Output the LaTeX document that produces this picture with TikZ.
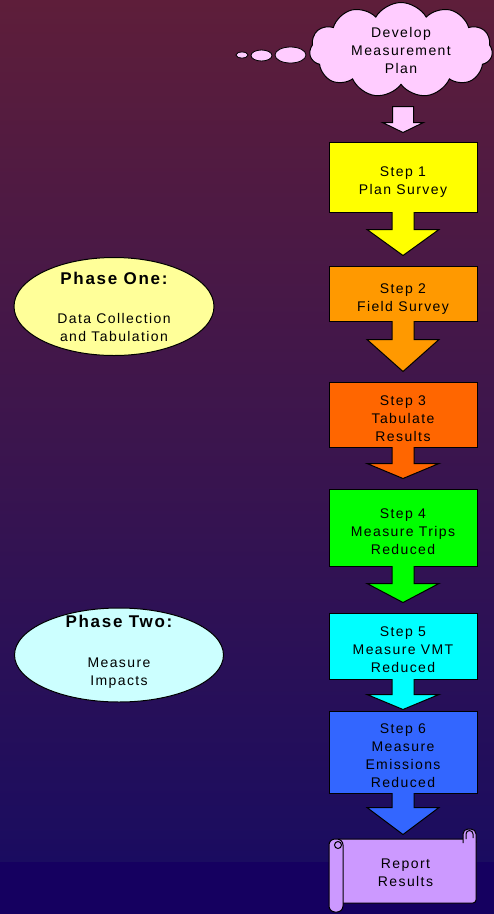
\documentclass[tikz,border=0pt]{standalone}
\usepackage{fontspec}
\setmainfont{Liberation Sans}[LetterSpace=10]
\usetikzlibrary{calc,shapes.geometric,shapes.symbols}

\definecolor{bgtop}{HTML}{5E1E3A}
\definecolor{bgmid}{HTML}{4A1A56}
\definecolor{bgbot}{HTML}{1A0C60}
\definecolor{bgband}{HTML}{150060}
\definecolor{cloudpink}{HTML}{FFCCFF}
\definecolor{stepone}{HTML}{FFFF00}
\definecolor{steptwo}{HTML}{FF9900}
\definecolor{stepthree}{HTML}{FF6600}
\definecolor{stepfour}{HTML}{00FF00}
\definecolor{stepfive}{HTML}{00FFFF}
\definecolor{stepsix}{HTML}{3366FF}
\definecolor{scrollfill}{HTML}{CC99FF}
\definecolor{phaseone}{HTML}{FFFF99}
\definecolor{phasetwo}{HTML}{CCFFFF}

\newcommand{\tstrut}{\rule{0pt}{21pt}}
\newcommand{\bstrut}{\rule[-4pt]{0pt}{4pt}}
% block arrow: from, to, neck length, gap above target, fill
\newcommand{\flowarrow}[5]{%
  \filldraw[fill=#5] ($(#1.south)+(-11,-0.5)$) -- ($(#1.south)+(-11,#3)$) -- ($(#1.south)+(-36,#3)$)
    -- ($(#1.south |- #2.north)+(0,-#4)$) -- ($(#1.south)+(36,#3)$) -- ($(#1.south)+(11,#3)$)
    -- ($(#1.south)+(11,-0.5)$);}

\begin{document}
\begin{tikzpicture}[x=1pt,y=-1pt,line width=1pt,
    font=\fontsize{14}{18}\selectfont,
    stepbox/.style={draw,minimum width=148,inner sep=0pt,align=center},
    phase/.style={ellipse,draw,inner xsep=0pt,inner ysep=-8pt,align=center,text depth=0pt},
  ]
    % background
    \shade[top color=bgtop,middle color=bgmid,bottom color=bgbot] (0,0) rectangle (494,862);
    \fill[bgband] (0,862) rectangle (494,914);
    \useasboundingbox (0,0) rectangle (494,914);

    % thought cloud
    \filldraw[fill=cloudpink,line width=0.8pt] (242,55) ellipse (6 and 3);
    \filldraw[fill=cloudpink,line width=0.8pt] (261.5,55.5) ellipse (10.5 and 5.5);
    \filldraw[fill=cloudpink,line width=0.8pt] (290.5,55) ellipse (15.5 and 8);
    \node[cloud,cloud puffs=11,cloud puff arc=120,aspect=1.9,draw,fill=cloudpink,
          minimum width=183,minimum height=95,inner sep=0pt,align=center] (plan) at (401,50)
          {Develop\\Measurement\\Plan};

    % phases
    \node[phase,fill=phaseone,minimum width=200,minimum height=98] (ph1) at (114,306.5)
        {{\fontsize{17}{18}\selectfont\bfseries Phase One:}\\[21pt]Data Collection\\and Tabulation};
    \node[phase,fill=phasetwo,minimum width=209,minimum height=94,text depth=10pt] (ph2) at (119,655)
        {{\fontsize{17}{18}\selectfont\bfseries Phase Two:}\\[22pt]Measure\\Impacts};

    % steps
    \node[stepbox,fill=stepone,minimum height=70] (s1) at (403,177) {\tstrut Step 1\\Plan Survey\bstrut};
    \node[stepbox,fill=steptwo,minimum height=55] (s2) at (403,293.5) {\tstrut Step 2\\Field Survey\bstrut};
    \node[stepbox,fill=stepthree,minimum height=65] (s3) at (403,414.5) {\tstrut Step 3\\Tabulate\\Results\bstrut};
    \node[stepbox,fill=stepfour,minimum height=77] (s4) at (403,527.5) {\tstrut Step 4\\Measure Trips\\Reduced\bstrut};
    \node[stepbox,fill=stepfive,minimum height=66] (s5) at (403,646) {\tstrut Step 5\\Measure VMT\\Reduced\bstrut};
    \node[stepbox,fill=stepsix,minimum height=82] (s6) at (403,752) {\tstrut Step 6\\Measure\\Emissions\\Reduced\bstrut};

    % report scroll
    \filldraw[fill=scrollfill,rounded corners=3] (336,839) -- (476,839) -- (476,903) -- (336,903) -- cycle;
    \filldraw[fill=scrollfill,rounded corners=5] (463,843) -- (463,829) -- (476,829) -- (476,843);
    \draw (466,839) -- (466,834) arc (180:360:3.5) -- (473,838);
    \filldraw[fill=scrollfill,rounded corners=6] (329,839) rectangle (343,912);
    \draw (338,845) circle (3.5);
    \node[align=center,minimum width=147,minimum height=64,inner sep=0pt] (report) at (405.5,868.5)
        {\tstrut Report\\Results\bstrut};

    % arrows
    \filldraw[fill=cloudpink] ($(s1.north)+(-10.5,-35)$) -- ++(0,16) -- ++(-10,0) -- ($(s1.north)+(0,-9)$)
        -- ($(s1.north)+(20.5,-19)$) -- ++(-10,0) -- ++(0,-16) -- cycle;
    \flowarrow{s1}{s2}{17}{10}{stepone}
    \flowarrow{s2}{s3}{18}{10}{steptwo}
    \flowarrow{s3}{s4}{16}{10}{stepthree}
    \flowarrow{s4}{s5}{17}{10}{stepfour}
    \flowarrow{s5}{s6}{15}{1}{stepfive}
    \flowarrow{s6}{report}{14}{1.5}{stepsix}
\end{tikzpicture}
\end{document}
